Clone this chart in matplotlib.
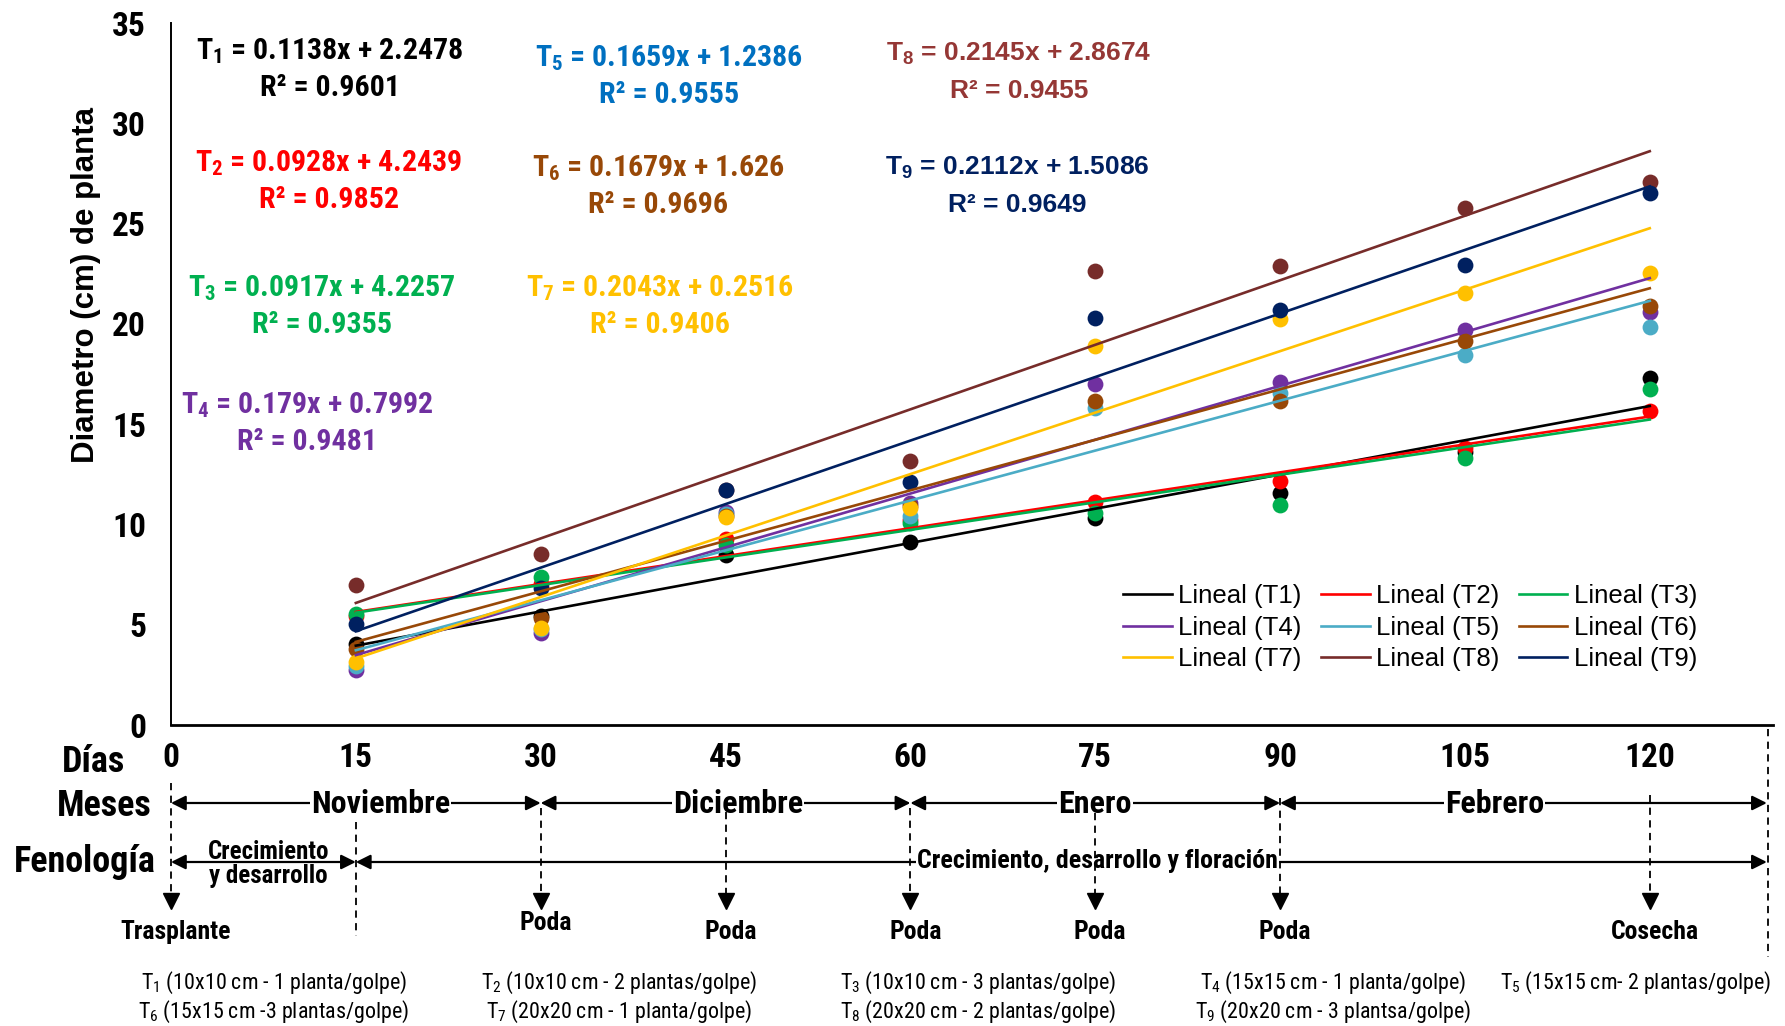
import matplotlib
matplotlib.use('Agg')
import matplotlib.pyplot as plt
from matplotlib import font_manager
from matplotlib.font_manager import FontProperties
from matplotlib.transforms import blended_transform_factory

# dias despues del trasplante
dias = [15, 30, 45, 60, 75, 90, 105, 120]

# diametro de planta (cm) por tratamiento
t1 = [4.05, 5.45, 8.50, 9.12, 10.30, 11.55, 13.60, 17.28]
t2 = [5.45, 7.05, 9.28, 10.20, 11.10, 12.16, 13.80, 15.67]
t3 = [5.55, 7.36, 8.97, 10.05, 10.57, 10.97, 13.33, 16.73]
t4 = [2.75, 4.58, 10.60, 11.05, 17.00, 17.08, 19.69, 20.60]
t5 = [2.95, 4.80, 10.50, 10.40, 15.79, 16.54, 18.44, 19.86]
t6 = [3.77, 5.32, 10.40, 10.90, 16.17, 16.17, 19.16, 20.89]
t7 = [3.16, 4.82, 10.35, 10.80, 18.91, 20.22, 21.55, 22.55]
t8 = [7.00, 8.51, 11.70, 13.15, 22.63, 22.88, 25.76, 27.08]
t9 = [5.03, 6.81, 11.71, 12.13, 20.30, 20.69, 22.93, 26.50]
series = [t1, t2, t3, t4, t5, t6, t7, t8, t9]

# lineas de tendencia (y = a*x + b)
pendientes = [0.1138, 0.0928, 0.0917, 0.179, 0.1659, 0.1679, 0.2043, 0.2145, 0.2112]
interceptos = [2.2478, 4.2439, 4.2257, 0.7992, 1.2386, 1.626, 0.2516, 2.8674, 1.5086]
r2 = ['0.9601', '0.9852', '0.9355', '0.9481', '0.9555', '0.9696', '0.9406', '0.9455', '0.9649']

colores = ['#000000', '#FF0000', '#00B050', '#7030A0', '#4BACC6', '#984807', '#FFC000', '#772C2A', '#002060']
colores_texto = ['#000000', '#FF0000', '#00B050', '#7030A0', '#0070C0', '#984807', '#FFC000', '#953735', '#002060']

meses = ['Noviembre', 'Diciembre', 'Enero', 'Febrero']
limites_meses = [0, 30, 60, 90, 129.5]
eventos = ['Trasplante', 'Poda', 'Poda', 'Poda', 'Poda', 'Poda', 'Cosecha']
dias_eventos = [0, 30, 45, 60, 75, 90, 120]
tratamientos = [
    ['T$_1$ (10x10 cm - 1 planta/golpe)', 'T$_6$ (15x15 cm -3 plantas/golpe)'],
    ['T$_2$ (10x10 cm - 2 plantas/golpe)', 'T$_7$ (20x20 cm - 1 planta/golpe)'],
    ['T$_3$ (10x10 cm - 3 plantas/golpe)', 'T$_8$ (20x20 cm - 2 plantas/golpe)'],
    ['T$_4$ (15x15 cm - 1 planta/golpe)', 'T$_9$ (20x20 cm - 3 plantsa/golpe)'],
    ['T$_5$ (15x15 cm- 2 plantas/golpe)'],
]

ARIAL = 'Liberation Sans'
plt.rcParams['font.family'] = [ARIAL, 'DejaVu Sans']
plt.rcParams['mathtext.default'] = 'regular'


# busca una sans angosta (tipo Arial Narrow) entre las fuentes instaladas
def peso_num(w):
    return w if isinstance(w, int) else font_manager.weight_dict.get(w, 400)


def fuente_angosta(peso):
    preferidas = ['liberation sans narrow', 'arial narrow', 'roboto condensed',
                  'noto sans', 'open sans', 'dejavu sans', 'lato', 'inter']
    mejor = None
    for f in font_manager.fontManager.ttflist:
        texto = (f.name + ' ' + f.fname).lower()
        estrecha = ('narrow' in texto or 'condensed' in texto
                    or f.stretch in ('condensed', 'semi-condensed', 'extra-condensed'))
        if not estrecha or 'mono' in texto or 'serif' in f.name.lower():
            continue
        if 'semicondensed' in texto.replace('-', '').replace(' ', '') or 'extra' in texto:
            continue
        if f.style != 'normal' or peso_num(f.weight) != peso:
            continue
        rango = len(preferidas)
        for k, p in enumerate(preferidas):
            if p in texto:
                rango = k
                break
        if mejor is None or rango < mejor[0]:
            mejor = (rango, f.fname)
    return mejor[1] if mejor else None


ruta_b = fuente_angosta(700)
ruta_r = fuente_angosta(400)
if ruta_b:
    def fp_b(tam):
        return FontProperties(fname=ruta_b, size=tam)
else:
    def fp_b(tam):
        return FontProperties(family=ARIAL, weight='bold', size=tam * 0.86)
if ruta_r:
    def fp_r(tam):
        return FontProperties(fname=ruta_r, size=tam)
else:
    def fp_r(tam):
        return FontProperties(family=ARIAL, size=tam * 0.86)

W, H = 1785, 1026
X0, X1, Y0, Y1 = 171, 1773, 725, 23
fig = plt.figure(figsize=(W / 100, H / 100), dpi=100)
ax = fig.add_axes([X0 / W, 1 - Y0 / H, (X1 - X0) / W, (Y0 - Y1) / H])


def fy(py):
    return 1 - py / H


def fx(px):
    return px / W


# puntos y tendencias
for i, vals in enumerate(series):
    ax.scatter(dias, vals, s=130, color=colores[i], zorder=2, linewidths=0)
lineas = []
for i in range(9):
    xs = [dias[0], dias[-1]]
    ys = [pendientes[i] * x + interceptos[i] for x in xs]
    ln, = ax.plot(xs, ys, color=colores[i], lw=1.9, zorder=3, label='Lineal (T%d)' % (i + 1))
    lineas.append(ln)

ax.set_xlim(0, 130)
ax.set_ylim(0, 35)
ax.set_yticks(range(0, 36, 5))
ax.set_xticks([0, 15, 30, 45, 60, 75, 90, 105, 120])
ax.tick_params(length=0)
ax.tick_params(axis='y', pad=18)
ax.tick_params(axis='x', pad=12)
for lab in ax.get_yticklabels() + ax.get_xticklabels():
    lab.set_fontproperties(fp_b(24))
for s in ['top', 'right']:
    ax.spines[s].set_visible(False)
ax.spines['left'].set_linewidth(1.4)
ax.spines['bottom'].set_linewidth(2)

ax.set_ylabel('Diametro (cm) de planta', fontsize=22.5, fontweight='bold')
ax.yaxis.set_label_coords(-0.044, 0.627)

# ecuaciones
pos_ec = [(330, 51), (329, 163), (322, 288), (307, 405), (669, 58),
          (658, 168), (660, 288), (1019, 54), (1017, 168)]
for i, (px, py) in enumerate(pos_ec):
    if i >= 7:
        fp = FontProperties(family=ARIAL, weight='bold', size=19)
    else:
        fp = fp_b(21.5)
    fig.text(fx(px), fy(py), 'T$_%d$ = %sx + %s' % (i + 1, pendientes[i], interceptos[i]),
             ha='center', va='center', color=colores_texto[i], fontproperties=fp)
    fig.text(fx(px), fy(py + 37), 'R² = ' + r2[i], ha='center', va='center',
             color=colores_texto[i], fontproperties=fp)

orden = [0, 3, 6, 1, 4, 7, 2, 5, 8]
ax.legend([lineas[k] for k in orden], [lineas[k].get_label() for k in orden],
          ncol=3, loc='upper left', bbox_to_anchor=(fx(1110), fy(571)),
          bbox_transform=fig.transFigure, frameon=False, fontsize=18.5,
          handlelength=1.9, handletextpad=0.25, columnspacing=0.75,
          labelspacing=0.3, borderpad=0)

# esquema de fenologia bajo el eje
trans = blended_transform_factory(ax.transData, fig.transFigure)


def flecha(x0, x1, py):
    ax.annotate('', xy=(x1, fy(py)), xytext=(x0, fy(py)), xycoords=trans, textcoords=trans,
                arrowprops=dict(arrowstyle='<|-|>', color='black', lw=1.6,
                                shrinkA=0, shrinkB=0, mutation_scale=22),
                annotation_clip=False, zorder=2)


def rotulo(x, py, txt, tam, fondo=False):
    kw = {}
    if fondo:
        kw['bbox'] = dict(facecolor='white', edgecolor='none', pad=1)
    ax.text(x, fy(py), txt, transform=trans, ha='center', va='center',
            fontproperties=fp_b(tam), clip_on=False, zorder=3, **kw)


def guion(x, py0, py1):
    ax.plot([x, x], [fy(py0), fy(py1)], transform=trans, color='black', lw=1.3,
            ls=(0, (4, 3)), clip_on=False, zorder=4)


for txt, px, py in [('Días', 93, 762), ('Meses', 104, 806), ('Fenología', 85, 862)]:
    fig.text(fx(px), fy(py), txt, ha='center', va='center', fontproperties=fp_b(26))

centros_meses = [17, 46, 75, 107.4]
for k, mes in enumerate(meses):
    flecha(limites_meses[k], limites_meses[k + 1], 803)
    rotulo(centros_meses[k], 804, mes, 23, fondo=True)

flecha(0, 15, 862)
flecha(15, 129.5, 862)
rotulo(7.9, 852, 'Crecimiento', 18)
rotulo(7.9, 876, 'y desarrollo', 18)
rotulo(75.2, 861, 'Crecimiento, desarrollo y floración', 18.7, fondo=True)

inicio_guion = [783, 808, 812, 808, 813, 798, 795]
for d, ev, p0 in zip(dias_eventos, eventos, inicio_guion):
    guion(d, p0, 896)
    ax.plot([d], [fy(901)], transform=trans, marker='v', ms=11, color='black',
            clip_on=False, zorder=4)
    rotulo(d + 0.4, 923 if d == 30 else 932, ev, 18.5)
guion(15, 822, 936)
guion(129.6, 729, 957)

col_x = [274, 619, 978, 1333, 1636]
for cx, filas in zip(col_x, tratamientos):
    for j, txt in enumerate(filas):
        fig.text(fx(cx), fy(983 + 29 * j), txt, ha='center', va='center',
                 fontproperties=fp_r(15.8))

fig.savefig('out.png', dpi=100)
